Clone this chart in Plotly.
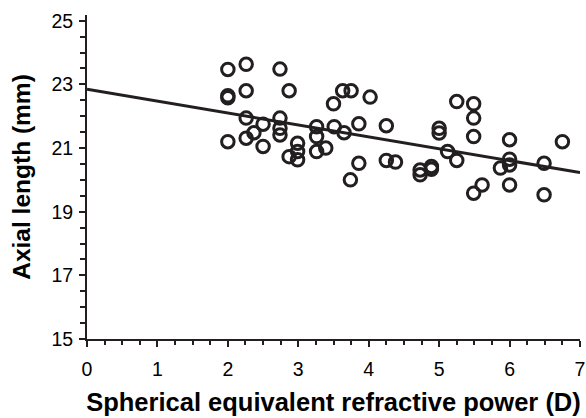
import plotly.graph_objects as go

# Scatter data: spherical equivalent refractive power (D) vs axial length (mm)
refraction = [
    2.00, 2.26, 2.74, 2.00, 2.00, 2.26, 2.87, 2.26, 2.50, 2.74,
    2.74, 2.74, 2.37, 2.00, 2.26, 2.50, 2.99, 2.99, 2.87, 2.99,
    3.26, 3.26, 3.26, 3.50, 3.63, 3.75, 4.02, 3.51, 3.65, 3.86,
    4.25, 3.39, 3.86, 3.74, 4.25, 4.38, 4.73, 4.73, 4.89, 4.89,
    5.00, 5.00, 5.12, 5.25, 5.25, 5.49, 5.49, 5.49, 6.00, 6.00,
    6.00, 5.87, 6.00, 6.49, 6.75, 6.49, 5.49, 5.61,
]
axial_length = [
    23.47, 23.63, 23.48, 22.64, 22.58, 22.80, 22.80, 21.94, 21.75, 21.94,
    21.62, 21.41, 21.48, 21.20, 21.31, 21.05, 21.15, 20.89, 20.73, 20.63,
    21.67, 21.36, 20.89, 22.39, 22.80, 22.80, 22.60, 21.67, 21.48, 21.76,
    21.70, 21.00, 20.52, 20.00, 20.61, 20.56, 20.31, 20.16, 20.42, 20.33,
    21.62, 21.47, 20.89, 20.61, 22.46, 22.39, 21.94, 21.36, 21.26, 20.65,
    20.47, 20.37, 19.84, 20.52, 21.20, 19.53, 19.58, 19.84,
]

# Regression line end points
fit_x = [0, 7]
fit_y = [22.85, 20.23]

x_ticks = [0, 1, 2, 3, 4, 5, 6, 7]
y_ticks = [15, 17, 19, 21, 23, 25]

ink = "#231f20"

fig = go.Figure()
fig.add_trace(go.Scatter(
    x=fit_x, y=fit_y, mode="lines",
    line=dict(color=ink, width=3), showlegend=False, hoverinfo="skip",
))
fig.add_trace(go.Scatter(
    x=refraction, y=axial_length, mode="markers",
    marker=dict(symbol="circle-open", size=12.5, color=ink,
                line=dict(color=ink, width=3)),
    showlegend=False,
))

fig.update_layout(
    width=586, height=418,
    margin=dict(l=86.5, r=5.5, t=15, b=78.7, pad=0, autoexpand=False),
    paper_bgcolor="white", plot_bgcolor="white",
    font=dict(family="Liberation Sans, Arial, sans-serif", color="black", size=14),
    xaxis=dict(
        range=[0, 7], tickvals=x_ticks, ticktext=[str(v) for v in x_ticks],
        automargin=False,
        showgrid=False, zeroline=False, showline=True, linecolor=ink, linewidth=2,
        ticks="outside", ticklen=6, tickwidth=1.5, tickcolor=ink,
        minor=dict(dtick=0.25, ticks="outside", ticklen=3.5, tickwidth=1.5, tickcolor=ink, showgrid=False),
        tickfont=dict(size=19.5), ticklabelstandoff=6,
        title=dict(text="<b>Spherical equivalent refractive power (D)</b>",
                   font=dict(size=25.5), standoff=14),
    ),
    yaxis=dict(
        range=[15, 25.18], tickvals=y_ticks, ticktext=[str(v) for v in y_ticks],
        automargin=False,
        showgrid=False, zeroline=False, showline=True, linecolor=ink, linewidth=2,
        ticks="outside", ticklen=6, tickwidth=1.5, tickcolor=ink,
        minor=dict(dtick=0.5, ticks="outside", ticklen=5, tickwidth=1.5, tickcolor=ink, showgrid=False),
        tickfont=dict(size=19.5), ticklabelstandoff=2,
        title=dict(text="<b>Axial length (mm)</b>", font=dict(size=24.5), standoff=14),
    ),
)

fig.write_html(
    "out.html",
    config={"displayModeBar": False},
    post_script="document.body.style.margin='0';document.body.style.padding='0';",
)
